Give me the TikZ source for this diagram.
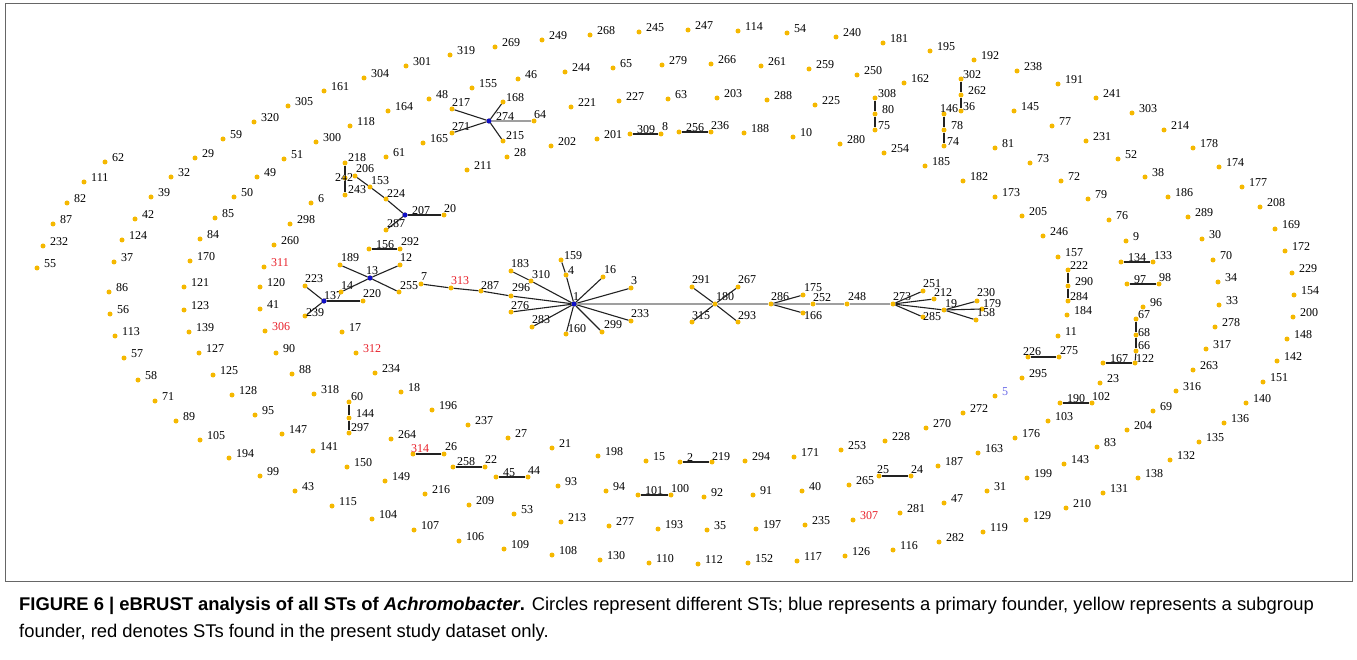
\documentclass[tikz,border=0pt]{standalone}
\usepackage{fontspec}
\setmainfont{Liberation Serif}
\newfontfamily\capfont{Liberation Sans}
\usetikzlibrary{positioning}

\definecolor{dotc}{HTML}{F5B800}
\definecolor{founderc}{HTML}{1010C8}
\definecolor{newc}{HTML}{E8202A}
\definecolor{pinkc}{HTML}{6A6AE8}
\definecolor{framec}{HTML}{666666}
\definecolor{linec}{HTML}{222222}

\tikzset{
  st/.style={circle, fill=dotc, inner sep=0pt, minimum size=5pt},
  lbl/.style={anchor=west, inner sep=0pt, font=\fontsize{12}{12}\selectfont},
  link/.style={line width=1.1pt, draw=linec},
  pale/.style={line width=1.1pt, draw=gray!75},
}

\begin{document}
\begin{tikzpicture}[x=1pt, y=-1pt]
		\useasboundingbox (0,0) rectangle (1357,660);
		
		% Frame
		\draw[framec, line width=1pt] (5,4) rectangle (1352,581);
		
		% Singletons and subgroup founders (label to the right)
		\foreach \n/\x/\y in {62/105/162, 111/84/182, 82/67/203, 87/53/224, 232/43/246, 55/37/268,
			161/324/91, 305/288/106, 320/254/122, 59/223/139, 29/195/158, 32/171/177, 39/151/197,
			42/135/219, 124/122/240, 37/114/262, 86/109/292, 56/110/314, 113/115/336, 57/124/358,
			58/138/380, 71/155/401, 89/176/421, 105/200/440, 194/229/458, 99/260/476, 43/295/491,
			115/332/506, 104/372/519, 107/414/530, 106/459/541, 109/504/549, 108/552/555, 130/600/560,
			110/649/563, 112/698/564, 152/748/563, 117/797/561, 126/845/556, 116/893/550, 282/939/542,
			119/983/532, 129/1026/520, 210/1066/508, 131/1103/493, 138/1138/478, 132/1170/460,
			135/1199/442, 136/1224/423, 140/1246/403, 151/1263/382, 142/1277/361, 148/1287/339,
			200/1293/317, 154/1294/295, 229/1292/273, 172/1285/251, 169/1275/229, 208/1260/207,
			177/1242/187, 174/1219/167, 178/1193/148, 214/1164/130, 303/1132/113, 241/1096/98,
			191/1058/84, 238/1017/71, 192/974/60, 195/930/51, 181/883/43, 240/836/37, 54/787/33,
			114/738/31, 247/688/30, 245/639/32, 268/590/35, 249/542/40, 269/495/47, 319/450/55,
			301/406/66, 304/364/78,
			300/316/142, 51/284/159, 49/257/177, 50/234/197, 85/215/218, 84/200/239, 170/190/261,
			121/184/287, 123/184/310, 139/189/332, 127/199/353, 125/213/375, 128/232/395, 95/255/415,
			147/282/434, 141/313/451, 150/347/467, 149/385/481, 216/425/494, 209/469/505, 53/514/514,
			213/561/522, 277/609/526, 193/658/529, 35/707/530, 197/756/529, 235/805/525, 281/900/513,
			47/944/503, 31/987/491, 199/1027/478, 143/1064/464, 83/1097/447, 204/1127/430, 69/1153/411,
			316/1176/391, 263/1193/370, 317/1206/349, 278/1215/327, 33/1219/305, 34/1218/282,
			70/1213/260, 30/1202/239, 289/1188/217, 186/1168/197, 38/1145/177, 52/1118/159,
			231/1086/141, 77/1052/126, 145/1014/111, 162/904/83, 250/857/75, 259/809/69, 261/761/66,
			266/711/64, 279/662/65, 65/613/68, 244/565/72, 46/518/79, 155/472/88, 48/429/99,
			164/388/111, 118/350/126,
			61/386/157, 6/311/203, 298/290/224, 260/274/245, 120/260/287, 41/260/309, 90/276/353,
			88/292/374, 318/314/394, 264/391/439, 196/432/410, 237/468/425, 27/508/438, 21/552/448,
			198/598/456, 15/646/461, 294/745/461, 171/794/457, 253/841/450, 228/885/441, 270/926/428,
			272/963/413, 93/558/486, 94/606/491, 92/704/497, 91/753/495, 40/802/491, 265/849/485,
			187/938/466, 163/978/453, 176/1015/438, 103/1048/421, 23/1100/383, 295/1022/378,
			11/1058/336, 184/1067/315, 157/1058/257, 246/1043/236, 205/1022/216, 173/995/197,
			182/963/181, 185/925/166, 254/884/153, 280/840/144, 81/995/148, 73/1030/163, 72/1061/181,
			79/1088/199, 76/1109/220, 9/1126/241, 96/1143/307, 10/793/137, 188/744/133, 225/815/105,
			288/767/100, 203/717/98, 63/668/99, 227/619/101, 221/571/107, 202/551/146, 201/597/139,
			211/467/170, 165/423/143, 28/507/157, 17/342/332, 234/375/373, 18/401/392,
			274/489/121, 207/405/215, 256/679/132, 80/875/114, 262/961/95, 78/944/130, 290/1068/286,
			134/1121/262, 97/1127/284, 167/1103/363, 144/349/418, 45/496/477, 101/638/495, 2/680/462,
			190/1060/403, 309/630/134, 156/369/249}
		{
			\node[st] (n\n) at (\x,\y) {};
			\node[lbl] (t\n) at (\x+7,\y-4.5) {\n};
		}
		
		% Nodes with the label placed elsewhere
		\foreach \n/\x/\y/\dx/\dy in {217/452/109/0/-6, 271/452/133/0/-6, 168/503/102/3/-4,
			64/534/121/0/-6, 215/503/141/3/-5, 218/345/163/3/-5, 242/345/178/-10/0, 243/345/195/3/-5,
			206/355/176/1/-7, 153/370/187/1/-6, 224/386/199/1/-5, 8/661/134/1/-7, 236/711/132/0/-6,
			308/875/98/3/-4, 75/875/130/3/-4, 302/961/79/2/-4, 36/961/111/2/-4, 146/944/114/-4/-5,
			74/944/146/3/-4, 223/305/286/0/-7, 137/324/301/0/-5, 239/305/316/1/-3, 20/444/215/0/-6,
			292/400/249/1/-7, 189/340/265/1/-7, 12/400/265/0/-7, 13/370/278/-4/-7, 14/341/292/0/-6,
			255/399/292/1/-6, 220/363/301/0/-7, 7/421/284/0/-7, 287/481/291/0/-5, 296/511/296/1/-8,
			183/511/271/0/-7, 310/531/281/1/-6, 159/561/260/3/-4, 4/566/275/2/-4, 16/603/277/1/-7,
			3/631/288/0/-7, 1/574/304/-1/-7, 276/511/312/0/-6, 283/532/327/0/-7, 160/566/334/2/-5,
			299/602/332/2/-7, 233/631/321/0/-7, 291/692/287/0/-7, 267/738/287/0/-7, 180/715/304/1/-7,
			315/692/322/0/-6, 293/738/322/0/-6, 286/771/304/0/-7, 175/803/295/1/-7.5, 252/813/304/0/-6,
			166/803/313/1/3, 248/847/304/1/-7, 273/893/304/0/-7, 251/923/291/0/-7, 212/934/299/0/-6,
			19/944/310/1/-6, 285/923/317/0/0, 230/977/301/0/-8, 179/982/309/1/-5.5, 158/976/320/1/-7,
			222/1068/270/2/-4, 284/1068/301/2/-4, 226/1028/357/-5/-5, 275/1059/357/1/-6,
			133/1153/262/1/-6, 98/1159/284/0/-6, 67/1136/319/2/-4, 68/1136/335/2/-2, 66/1136/351/2/-5,
			122/1135/363/1/-4, 60/349/402/2/-5, 297/349/433/2/-5, 26/444/454/1/-7, 258/453/467/4/-5,
			22/485/467/0/-7, 44/528/477/0/-6, 100/671/495/0/-6, 219/712/462/0/-5, 25/879/476/-2/-6,
			24/911/476/0/-6, 102/1092/403/0/-6}
		{
			\node[st] (n\n) at (\x,\y) {};
			\node[lbl] (t\n) at (\x+\dx,\y+\dy) {\n};
		}
		\node[st] (n287b) at (386,230) {};
		\node[lbl] (t287b) at (387,224) {287};
		
		% STs found only in this dataset
		\foreach \n/\x/\y/\dx/\dy in {311/264/267/7/-4.5, 306/265/331/7/-4.5, 312/356/353/7/-4.5,
			307/853/520/7/-4.5, 313/451/288/0/-7, 314/413/454/-2/-5}
		{
			\node[st] (n\n) at (\x,\y) {};
			\node[lbl, text=newc] (t\n) at (\x+\dx,\y+\dy) {\n};
		}
		\node[st] (n5) at (995,396) {};
		\node[lbl, text=pinkc] (t5) at (1002,391.5) {5};
		
		% Primary founders
		\foreach \n in {274, 207, 13, 137, 1}
			\fill[founderc] (n\n) circle (2.6pt);
		
		% Links
		\foreach \a/\b in {274/217, 274/168, 274/271, 274/215, 218/242, 242/243, 206/153,
			153/224, 224/207, 207/20, 207/287b, 156/292, 13/189, 13/12, 13/14, 13/255,
			137/223, 137/239, 137/220, 7/313, 313/287, 287/296, 296/1, 1/310, 310/183, 1/4,
			4/159, 1/16, 1/3, 1/233, 1/299, 1/160, 1/283, 1/276, 180/291, 180/267, 180/315,
			180/293, 286/175, 286/166, 273/251, 273/212, 273/285, 273/19, 19/230, 19/179,
			19/158, 309/8, 256/236, 308/80, 80/75, 146/78, 78/74, 302/262, 262/36, 222/290,
			290/284, 226/275, 134/133, 97/98, 67/68, 68/66, 66/122, 167/122, 190/102, 60/144,
			144/297, 314/26, 258/22, 45/44, 101/100, 2/219, 25/24}
			\draw[link] (n\a) -- (n\b);
		\foreach \a/\b in {274/64, 1/180, 180/286, 286/252, 252/248, 248/273}
			\draw[pale] (n\a) -- (n\b);
		
		% Caption
		\node[anchor=north west, align=left, inner sep=0pt, font=\capfont\fontsize{18.4}{27}\selectfont]
			(cap) at (19,597) {\textbf{FIGURE 6 {\textbar} eBRUST analysis of all STs of \textit{Achromobacter}.} Circles represent different STs; blue represents a primary founder, yellow represents a subgroup\\
			founder, red denotes STs found in the present study dataset only.};
	\end{tikzpicture}
\end{document}
